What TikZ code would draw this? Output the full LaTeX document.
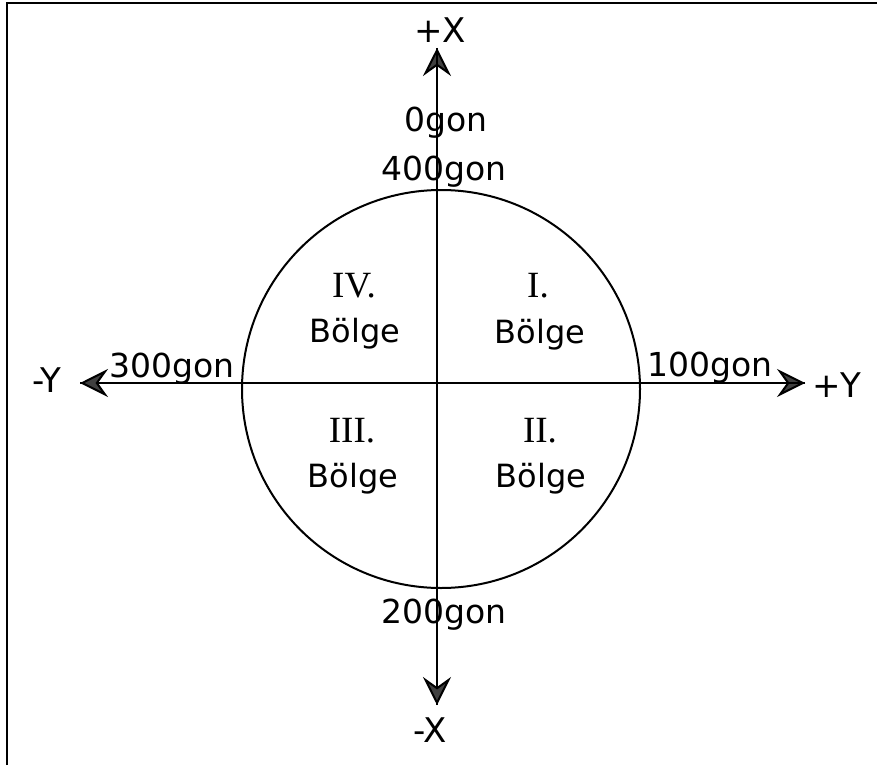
\documentclass[tikz,border=0pt]{standalone}
\usepackage{fontspec}
\usepackage{tikz}
\usetikzlibrary{arrows.meta}
\newfontfamily\gonfont{DejaVu Sans}
\newfontfamily\numfont{Liberation Serif}
\definecolor{tipgray}{HTML}{404040}

\tikzset{
    axisarrow/.style={-{Stealth[length=14pt, width=14pt, inset=5pt, fill=tipgray]}},
    axislabel/.style={anchor=base, inner sep=0pt, font=\gonfont\fontsize{17}{19}\selectfont},
    gonlabel/.style={anchor=base, inner sep=0pt, font=\gonfont\fontsize{16.5}{18}\selectfont},
    zonenum/.style={anchor=base, inner sep=0pt, font=\numfont\fontsize{18.5}{20}\selectfont},
    zonename/.style={anchor=base, inner sep=0pt, font=\gonfont\fontsize{16}{18}\selectfont}
}

\begin{document}
\begin{tikzpicture}[x=0.5pt, y=-0.5pt, line width=1pt]
    \useasboundingbox (0,0) rectangle (877,765);

    % Cadre
    \draw[line width=1.2pt] (7,765) -- (7,3) -- (877,3);

    % Extremites des axes
    \coordinate (xplus) at (437,48);
    \coordinate (xminus) at (437,705);
    \coordinate (yminus) at (80,383);
    \coordinate (yplus) at (805,383);

    % Cercle
    \draw (441,389) circle (199);

    % Axes
    \draw[axisarrow] (xminus) -- (xplus);
    \draw[axisarrow] (xplus) -- (xminus);
    \draw[axisarrow] (yminus) -- (yplus);
    \draw[axisarrow] (yplus) -- (yminus);

    % Noms des axes
    \node[axislabel] (lxp) at (440,43) {+X};
    \node[axislabel] (lxm) at (430,742) {-X};
    \node[axislabel] (lym) at (47,392) {-Y};
    \node[axislabel] (lyp) at (837,397) {+Y};

    % Graduations en gon
    \node[gonlabel] (g0) at (446,132) {0gon};
    \node[gonlabel] (g400) at (444,180) {400gon};
    \node[gonlabel] (g100) at (710,376) {100gon};
    \node[gonlabel] (g200) at (444,623) {200gon};
    \node[gonlabel] (g300) at (172,377) {300gon};

    % Bolges
    \node[zonenum] (n1) at (538,297) {I.};
    \node[zonename] (b1) at (540,343) {Bölge};
    \node[zonenum] (n2) at (540,442) {II.};
    \node[zonename] (b2) at (541,487) {Bölge};
    \node[zonenum] (n3) at (352,442) {III.};
    \node[zonename] (b3) at (353,487) {Bölge};
    \node[zonenum] (n4) at (354,297) {IV.};
    \node[zonename] (b4) at (355,342) {Bölge};
\end{tikzpicture}
\end{document}
